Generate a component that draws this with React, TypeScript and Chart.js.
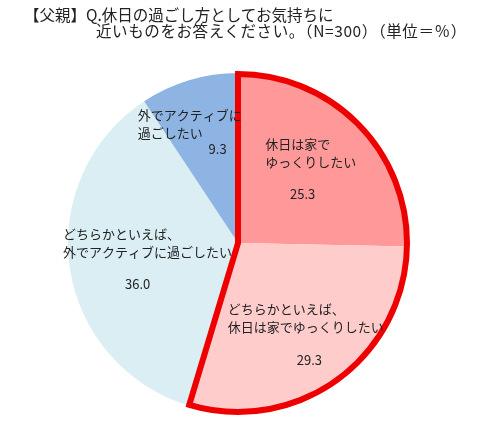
import { useEffect, useRef } from "react";
import { Chart, registerables } from "chart.js";

Chart.register(...registerables);

// slice names, shown in two lines inside each slice
const categories = [
  ["休日は家で", "ゆっくりしたい"],
  ["どちらかといえば、", "休日は家でゆっくりしたい"],
  ["どちらかといえば、", "外でアクティブに過ごしたい"],
  ["外でアクティブに", "過ごしたい"],
];
const values = [25.3, 29.3, 36.0, 9.3];
const colors = ["#FF9999", "#FFCCCC", "#DAEEF3", "#8EB4E3"];

const titleLines = [
  "【父親】Q.休日の過ごし方としてお気持ちに",
  "近いものをお答えください。（N=300）（単位＝％）",
];

// label placement, relative to the pie centre in units of the radius
// [nameX, nameY, valueX, valueY]
const labelLayout = [
  [0.16, -0.58, 0.38, -0.29],
  [-0.06, 0.39, 0.42, 0.69],
  [-1.03, -0.05, -0.59, 0.24],
  [-0.59, -0.75, -0.12, -0.55],
];

const FONT = '"Noto Sans CJK JP", "Noto Sans", sans-serif';

const sliceLabels = {
  id: "sliceLabels",
  afterDatasetsDraw(chart: Chart) {
    const { ctx } = chart;
    const meta = chart.getDatasetMeta(0);
    const arcs = meta.data as any[];
    if (!arcs.length) return;
    const cx = arcs[0].x;
    const cy = arcs[0].y;
    const r = arcs[0].outerRadius;

    // red outline around the two "at home" slices
    const start = arcs[0].startAngle;
    const end = arcs[1].endAngle;
    ctx.save();
    ctx.beginPath();
    ctx.moveTo(cx, cy);
    ctx.arc(cx, cy, r - 1, start, end);
    ctx.closePath();
    ctx.lineWidth = 6;
    ctx.strokeStyle = "#EE0000";
    ctx.lineJoin = "miter";
    ctx.stroke();
    ctx.restore();

    ctx.save();
    ctx.fillStyle = "#222";
    ctx.font = `13px ${FONT}`;
    ctx.textBaseline = "middle";
    categories.forEach((lines, i) => {
      const [nx, ny, vx, vy] = labelLayout[i];
      ctx.textAlign = "left";
      lines.forEach((line, j) => {
        ctx.fillText(line, cx + nx * r, cy + ny * r + j * 17.5);
      });
      ctx.textAlign = "center";
      ctx.fillText(values[i].toFixed(1), cx + vx * r, cy + vy * r);
    });
    ctx.restore();
  },
};

const titleStyle = {
  position: "absolute" as const,
  fontFamily: FONT,
  fontSize: 15.5,
  lineHeight: "16px",
  color: "#222",
  whiteSpace: "nowrap" as const,
};

export default function App() {
  const chartRef = useRef<HTMLCanvasElement>(null);
  const chartInstance = useRef<Chart | null>(null);

  useEffect(() => {
    document.body.style.margin = "0";
    if (chartRef.current) {
      const ctx = chartRef.current.getContext("2d");
      if (ctx) {
        if (chartInstance.current) {
          chartInstance.current.destroy();
        }

        chartInstance.current = new Chart(ctx, {
          type: "pie",
          data: {
            labels: categories,
            datasets: [
              {
                data: values,
                backgroundColor: colors,
                borderWidth: 0,
              },
            ],
          },
          options: {
            responsive: true,
            maintainAspectRatio: false,
            animation: false,
            layout: {
              padding: { left: 68, right: 89, top: 73, bottom: 22 },
            },
            plugins: {
              legend: { display: false },
              tooltip: { enabled: false },
            },
          },
          plugins: [sliceLabels],
        });
      }
    }

    return () => {
      if (chartInstance.current) {
        chartInstance.current.destroy();
        chartInstance.current = null;
      }
    };
  }, []);

  return (
    <div style={{ position: "relative", width: 497, height: 435, background: "#fff" }}>
      <canvas ref={chartRef}></canvas>
      <div style={{ ...titleStyle, left: 24, top: 6 }}>{titleLines[0]}</div>
      <div style={{ ...titleStyle, left: 96, top: 22, letterSpacing: 0.6 }}>
        {titleLines[1]}
      </div>
    </div>
  );
}
